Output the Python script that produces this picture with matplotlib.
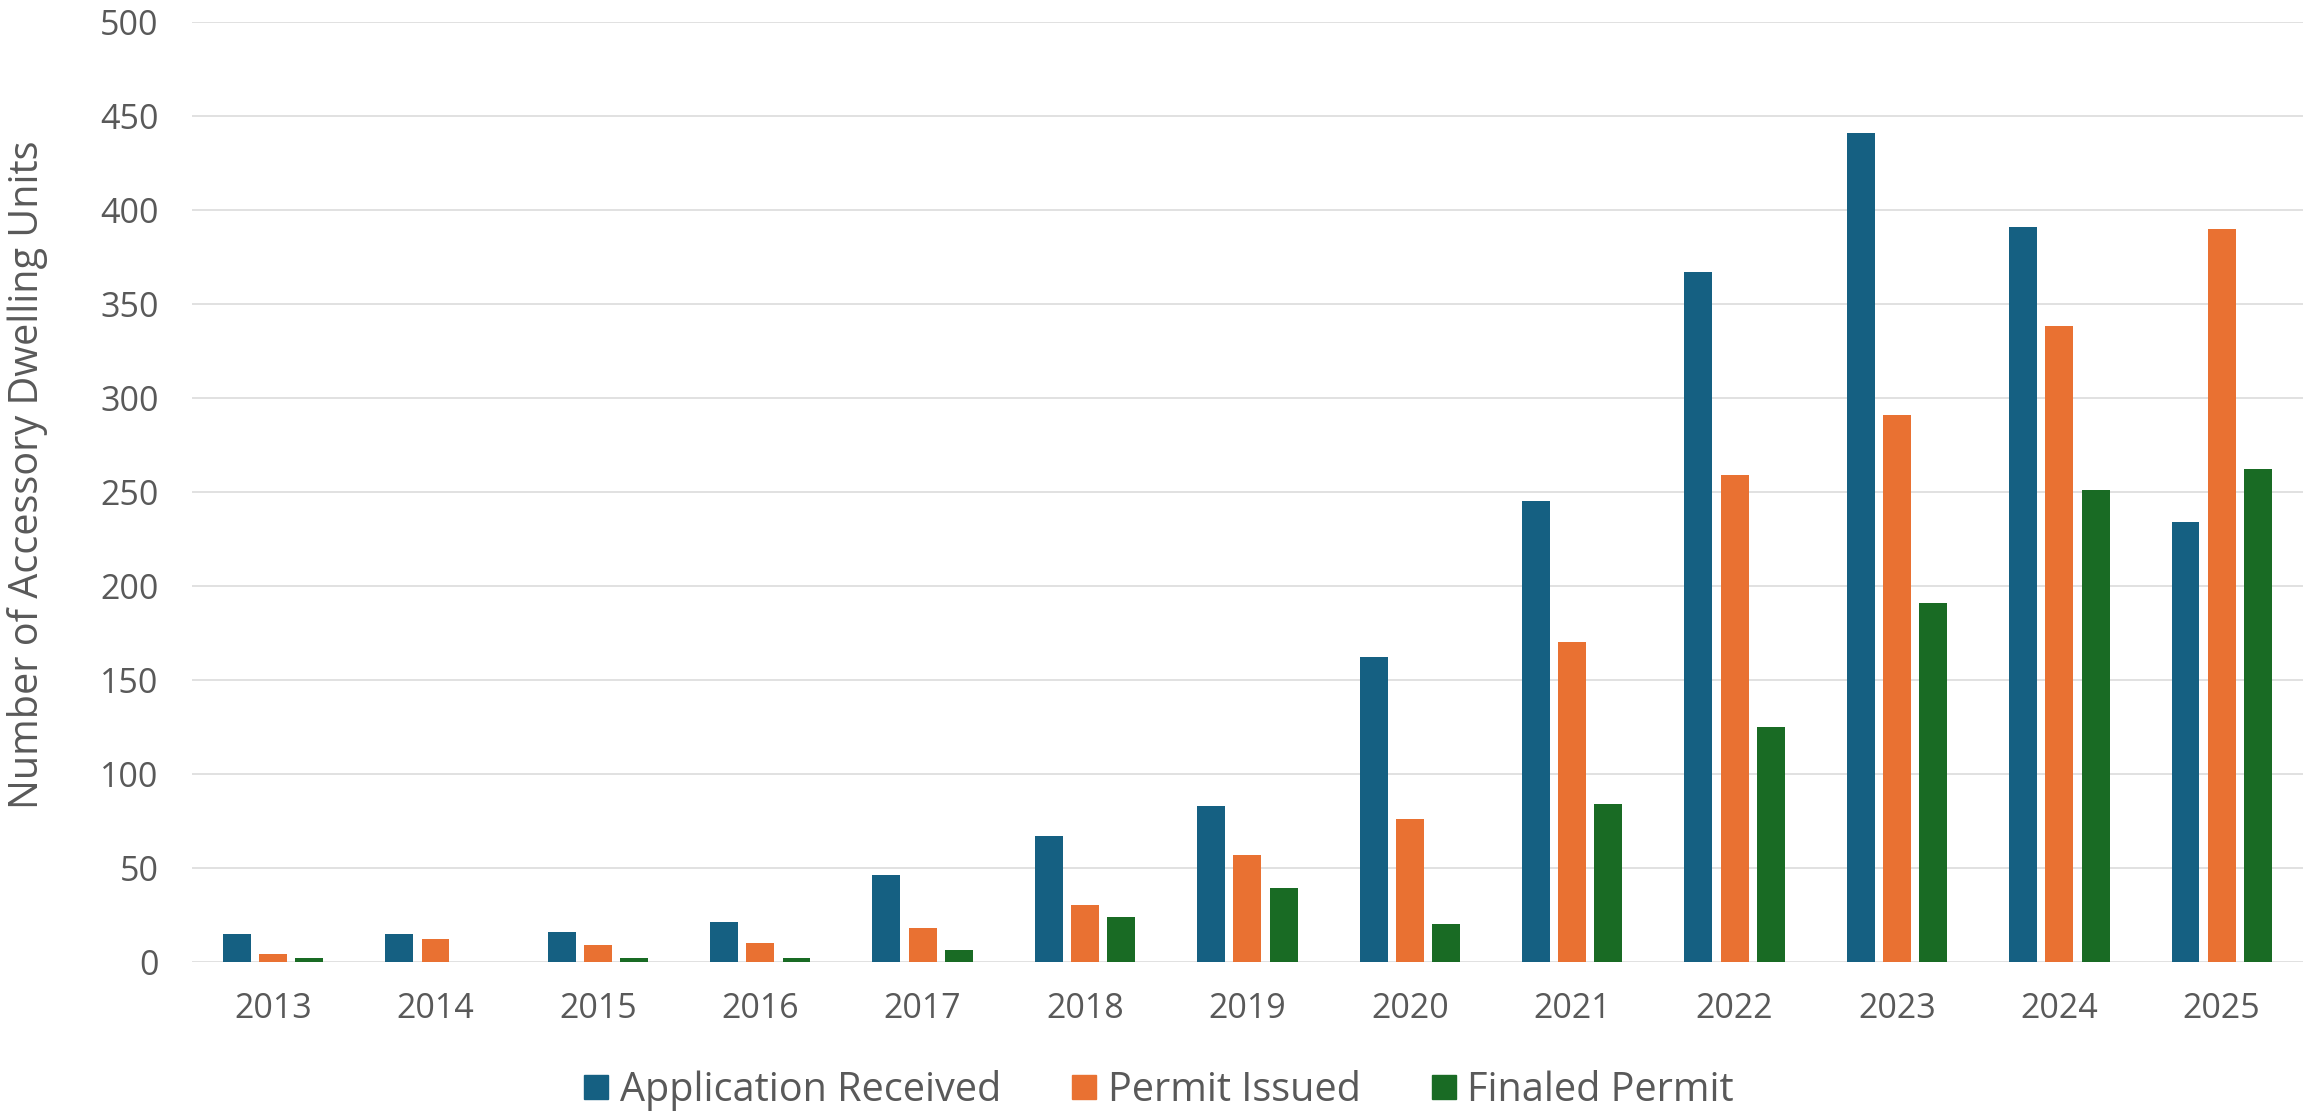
import numpy as np
import matplotlib.pyplot as plt
from matplotlib.lines import Line2D

plt.rcParams["font.family"] = ["Open Sans", "DejaVu Sans"]

years = ["2013", "2014", "2015", "2016", "2017", "2018", "2019",
         "2020", "2021", "2022", "2023", "2024", "2025"]
applications = [15, 15, 16, 21, 46, 67, 83, 162, 245, 367, 441, 391, 234]
issued = [4, 12, 9, 10, 18, 30, 57, 76, 170, 259, 291, 338, 390]
finaled = [2, 0, 2, 2, 6, 24, 39, 20, 84, 125, 191, 251, 262]

series_names = ["Application Received", "Permit Issued", "Finaled Permit"]
colors = ["#156082", "#E97132", "#196B24"]
text_color = "#595959"

fig = plt.figure(figsize=(23.18, 11.14), dpi=100)
ax = fig.add_axes([0.0828, 0.1367, 0.9107, 0.8438])

x = np.arange(len(years))
width = 0.172
step = 0.223
for i, (vals, c) in enumerate(zip([applications, issued, finaled], colors)):
    ax.bar(x + (i - 1) * step, vals, width, color=c, zorder=3)

ax.set_xlim(-0.5, len(years) - 0.5)
ax.set_ylim(0, 500)
ax.set_yticks(range(0, 501, 50))
ax.set_xticks(x)
ax.set_xticklabels(years)

ax.grid(axis="y", color="#D9D9D9", linewidth=1.1, zorder=0)
for s in ax.spines.values():
    s.set_visible(False)
ax.tick_params(axis="both", length=0, labelsize=24.5, colors=text_color)
ax.tick_params(axis="y", pad=24)
ax.tick_params(axis="x", pad=22)

ax.set_ylabel("Number of Accessory Dwelling Units", fontsize=28.5, color=text_color)
ax.yaxis.set_label_coords(-0.068, 0.518)

handles = [Line2D([], [], marker="s", linestyle="none", markersize=17,
                  markerfacecolor=c, markeredgecolor=c) for c in colors]
fig.legend(handles, series_names, loc="center", bbox_to_anchor=(0.5, 0.021),
           ncol=3, frameon=False, fontsize=28.5, labelcolor=text_color,
           handlelength=0.6, handletextpad=0.3, columnspacing=1.8, borderpad=0)

fig.savefig("out.png", dpi=100, facecolor="white")
